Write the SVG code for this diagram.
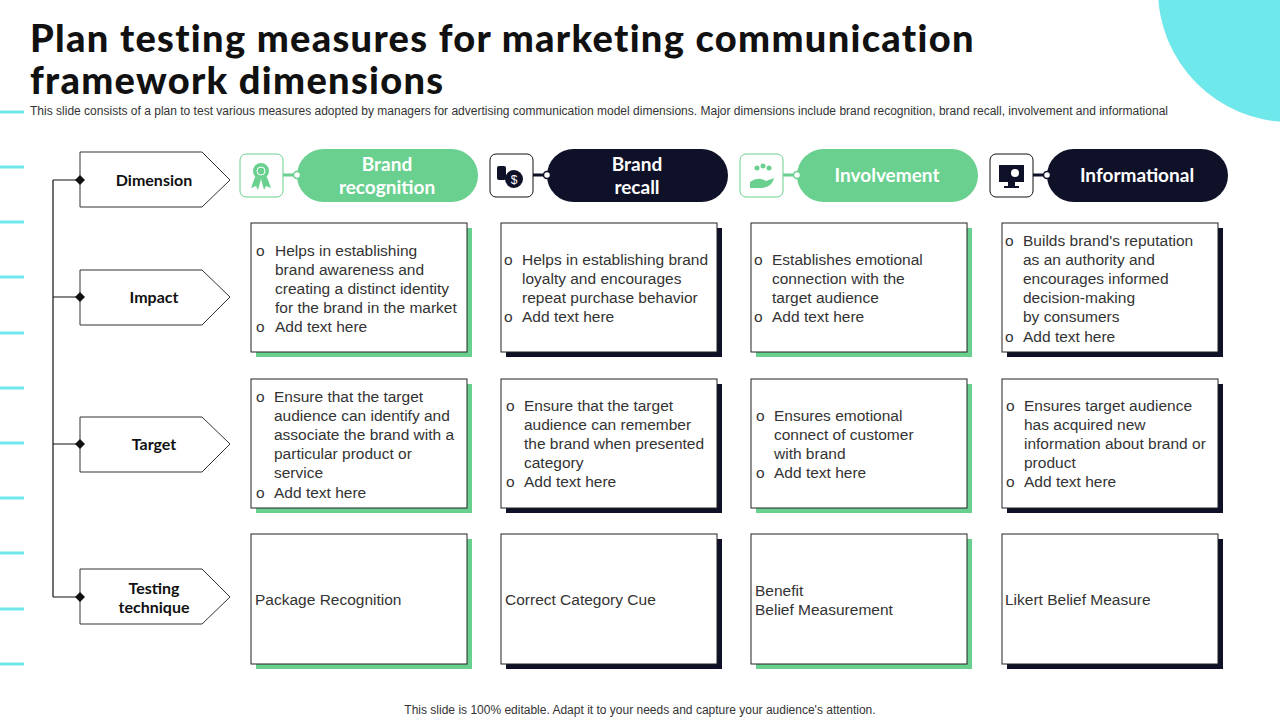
<svg xmlns="http://www.w3.org/2000/svg" width="1280" height="720" viewBox="0 0 1280 720">
<defs>
<style>
.title{font-family:Lato,"Open Sans",sans-serif;font-weight:900;font-size:38px;letter-spacing:1.3px;fill:#111}
.sub{font-family:"Liberation Sans",Arial,sans-serif;font-size:12px;fill:#333}
.lab{font-family:Lato,"Open Sans",sans-serif;font-weight:700;font-size:16px;fill:#111;text-anchor:middle}
.pill{font-family:Lato,"Open Sans",sans-serif;font-weight:700;font-size:19px;fill:#fff;text-anchor:middle}
.t{font-family:"Liberation Sans",Arial,sans-serif;font-size:15.5px;fill:#333}
.card{fill:#fff;stroke:#222;stroke-width:1}
.sg{fill:#6ad08f}.sd{fill:#0f1128}
.pent{fill:#fff;stroke:#333;stroke-width:1}
.dash{stroke:#6ee8ea;stroke-width:3}
.ln{stroke:#111;stroke-width:1.2;fill:none}
</style>
</defs>
<rect width="1280" height="720" fill="#fff"/>
<circle cx="1290" cy="-10" r="132" fill="#6ee8ea"/>
<g id="dashes">
<line class="dash" x1="0" y1="112" x2="24" y2="112"/><line class="dash" x1="0" y1="167" x2="24" y2="167"/><line class="dash" x1="0" y1="222" x2="24" y2="222"/><line class="dash" x1="0" y1="277" x2="24" y2="277"/><line class="dash" x1="0" y1="333" x2="24" y2="333"/><line class="dash" x1="0" y1="388" x2="24" y2="388"/><line class="dash" x1="0" y1="443" x2="24" y2="443"/><line class="dash" x1="0" y1="498" x2="24" y2="498"/><line class="dash" x1="0" y1="553" x2="24" y2="553"/><line class="dash" x1="0" y1="609" x2="24" y2="609"/><line class="dash" x1="0" y1="664" x2="24" y2="664"/>
</g>
<text class="title" x="30" y="52">Plan testing measures for marketing communication</text>
<text class="title" x="30" y="94">framework dimensions</text>
<text class="sub" x="30" y="115" textLength="1138" lengthAdjust="spacingAndGlyphs">This slide consists of a plan to test various measures adopted by managers for advertising communication model dimensions. Major dimensions include brand recognition, brand recall, involvement and informational</text>
<g id="connectors">
<path class="ln" d="M53 180V597M53 180H80M53 297H80M53 444H80M53 597H80"/>
<path d="M283 175H297M783 175H797" stroke="#6ad08f" stroke-width="3"/>
<path d="M533 175H547M1033 175H1047" stroke="#0f1128" stroke-width="3"/>
</g>
<g id="row-labels">
<g id="lab-dim"><path class="pent" d="M80 152H202L230 180L202 207H80Z"/><path d="M80 175L85 180L80 185L75 180Z" fill="#111"/><text class="lab" x="154" y="186">Dimension</text></g>
<g id="lab-imp"><path class="pent" d="M80 270H202L230 297L202 325H80Z"/><path d="M80 292L85 297L80 302L75 297Z" fill="#111"/><text class="lab" x="154" y="303">Impact</text></g>
<g id="lab-tar"><path class="pent" d="M80 417H202L230 444L202 472H80Z"/><path d="M80 439L85 444L80 449L75 444Z" fill="#111"/><text class="lab" x="154" y="450">Target</text></g>
<g id="lab-test"><path class="pent" d="M80 569H202L230 597L202 624H80Z"/><path d="M80 592L85 597L80 602L75 597Z" fill="#111"/><text class="lab" x="154" y="594">Testing</text><text class="lab" x="154" y="613">technique</text></g>
</g>
<g id="headers">
<g id="h1"><rect x="240" y="154" width="43" height="43" rx="6" fill="#fff" stroke="#6ad08f"/><circle cx="261" cy="171" r="8" fill="#6ad08f"/><circle cx="261" cy="171" r="4" fill="none" stroke="#fff"/><path d="M255 177L251 188L256 186L258 190L261 179ZM267 177L271 188L266 186L264 190L261 179Z" fill="#6ad08f"/><rect x="297" y="149" width="181" height="53" rx="26.5" fill="#6ad08f"/><circle cx="297" cy="175" r="3.5" fill="#fff" stroke="#6ad08f" stroke-width="1.5"/><text class="pill" x="387" y="171">Brand</text><text class="pill" x="387" y="194">recognition</text></g>
<g id="h2"><rect x="490" y="154" width="43" height="43" rx="6" fill="#fff" stroke="#111"/><rect x="497" y="166" width="9" height="14" rx="2" fill="#0f1128"/><circle cx="514" cy="179" r="9" fill="#0f1128"/><text x="514" y="184" font-family="Liberation Sans,sans-serif" font-size="12" fill="#fff" text-anchor="middle">$</text><rect x="547" y="149" width="181" height="53" rx="26.5" fill="#0f1128"/><circle cx="547" cy="175" r="3.5" fill="#fff" stroke="#0f1128" stroke-width="1.5"/><text class="pill" x="637" y="171">Brand</text><text class="pill" x="637" y="194">recall</text></g>
<g id="h3"><rect x="740" y="154" width="43" height="43" rx="6" fill="#fff" stroke="#6ad08f"/><path d="M750 182Q758 176 766 181L774 178Q772 188 760 188H750Z" fill="#6ad08f"/><circle cx="757" cy="168" r="2.5" fill="#6ad08f"/><circle cx="763" cy="166" r="2.5" fill="#6ad08f"/><circle cx="769" cy="168" r="2.5" fill="#6ad08f"/><rect x="797" y="149" width="181" height="53" rx="26.5" fill="#6ad08f"/><circle cx="797" cy="175" r="3.5" fill="#fff" stroke="#6ad08f" stroke-width="1.5"/><text class="pill" x="887" y="182">Involvement</text></g>
<g id="h4"><rect x="990" y="154" width="43" height="43" rx="6" fill="#fff" stroke="#111"/><rect x="999" y="165" width="25" height="17" fill="#0f1128"/><rect x="1008" y="182" width="7" height="4" fill="#0f1128"/><rect x="1004" y="186" width="15" height="2" fill="#0f1128"/><circle cx="1015" cy="173" r="4" fill="#fff"/><rect x="1047" y="149" width="181" height="53" rx="26.5" fill="#0f1128"/><circle cx="1047" cy="175" r="3.5" fill="#fff" stroke="#0f1128" stroke-width="1.5"/><text class="pill" x="1137" y="182">Informational</text></g>
</g>
<g id="cards">
<g id="c11"><rect class="sg" x="256" y="228" width="216" height="129"/><rect class="card" x="251" y="223" width="216" height="129"/>
<text class="t" x="256" y="256">o</text><text class="t" x="275" y="256">Helps in establishing</text><text class="t" x="275" y="275">brand awareness and</text><text class="t" x="275" y="294">creating a distinct identity</text><text class="t" x="275" y="313">for the brand in the market</text><text class="t" x="256" y="332">o</text><text class="t" x="275" y="332">Add text here</text></g>
<g id="c12"><rect class="sd" x="506" y="228" width="216" height="129"/><rect class="card" x="501" y="223" width="216" height="129"/>
<text class="t" x="504" y="265">o</text><text class="t" x="522" y="265">Helps in establishing brand</text><text class="t" x="522" y="284">loyalty  and encourages</text><text class="t" x="522" y="303">repeat purchase behavior</text><text class="t" x="504" y="322">o</text><text class="t" x="522" y="322">Add text here</text></g>
<g id="c13"><rect class="sg" x="756" y="228" width="216" height="129"/><rect class="card" x="751" y="223" width="216" height="129"/>
<text class="t" x="754" y="265">o</text><text class="t" x="772" y="265">Establishes emotional</text><text class="t" x="772" y="284">connection with the</text><text class="t" x="772" y="303">target audience</text><text class="t" x="754" y="322">o</text><text class="t" x="772" y="322">Add text here</text></g>
<g id="c14"><rect class="sd" x="1007" y="228" width="216" height="129"/><rect class="card" x="1002" y="223" width="216" height="129"/>
<text class="t" x="1005" y="246">o</text><text class="t" x="1023" y="246">Builds brand's reputation</text><text class="t" x="1023" y="265">as an authority  and</text><text class="t" x="1023" y="284">encourages informed</text><text class="t" x="1023" y="303">decision-making</text><text class="t" x="1023" y="322">by consumers</text><text class="t" x="1005" y="342">o</text><text class="t" x="1023" y="342">Add text here</text></g>

<g id="c21"><rect class="sg" x="256" y="384" width="216" height="129"/><rect class="card" x="251" y="379" width="216" height="129"/>
<text class="t" x="256" y="402">o</text><text class="t" x="274" y="402">Ensure that the target</text><text class="t" x="274" y="421">audience can identify and</text><text class="t" x="274" y="440">associate the brand with a</text><text class="t" x="274" y="459">particular product or</text><text class="t" x="274" y="478">service</text><text class="t" x="256" y="498">o</text><text class="t" x="274" y="498">Add text here</text></g>
<g id="c22"><rect class="sd" x="506" y="384" width="216" height="129"/><rect class="card" x="501" y="379" width="216" height="129"/>
<text class="t" x="506" y="411">o</text><text class="t" x="524" y="411">Ensure that the target</text><text class="t" x="524" y="430">audience can remember</text><text class="t" x="524" y="449">the brand when presented</text><text class="t" x="524" y="468">category</text><text class="t" x="506" y="487">o</text><text class="t" x="524" y="487">Add text here</text></g>
<g id="c23"><rect class="sg" x="756" y="384" width="216" height="129"/><rect class="card" x="751" y="379" width="216" height="129"/>
<text class="t" x="756" y="421">o</text><text class="t" x="774" y="421">Ensures emotional</text><text class="t" x="774" y="440">connect of customer</text><text class="t" x="774" y="459">with brand</text><text class="t" x="756" y="478">o</text><text class="t" x="774" y="478">Add text here</text></g>
<g id="c24"><rect class="sd" x="1007" y="384" width="216" height="129"/><rect class="card" x="1002" y="379" width="216" height="129"/>
<text class="t" x="1006" y="411">o</text><text class="t" x="1024" y="411">Ensures target audience</text><text class="t" x="1024" y="430">has acquired new</text><text class="t" x="1024" y="449">information about brand or</text><text class="t" x="1024" y="468">product</text><text class="t" x="1006" y="487">o</text><text class="t" x="1024" y="487">Add text here</text></g>

<g id="c31"><rect class="sg" x="256" y="539" width="216" height="130"/><rect class="card" x="251" y="534" width="216" height="130"/><text class="t" x="255" y="605">Package Recognition</text></g>
<g id="c32"><rect class="sd" x="506" y="539" width="216" height="130"/><rect class="card" x="501" y="534" width="216" height="130"/><text class="t" x="505" y="605">Correct Category Cue</text></g>
<g id="c33"><rect class="sg" x="756" y="539" width="216" height="130"/><rect class="card" x="751" y="534" width="216" height="130"/><text class="t" x="755" y="596">Benefit</text><text class="t" x="755" y="615">Belief Measurement</text></g>
<g id="c34"><rect class="sd" x="1007" y="539" width="216" height="130"/><rect class="card" x="1002" y="534" width="216" height="130"/><text class="t" x="1005" y="605">Likert Belief Measure</text></g>
</g>
<text class="sub" x="640" y="714" text-anchor="middle" font-size="12.5">This slide is 100% editable. Adapt it to your needs and capture your audience's attention.</text>
</svg>
